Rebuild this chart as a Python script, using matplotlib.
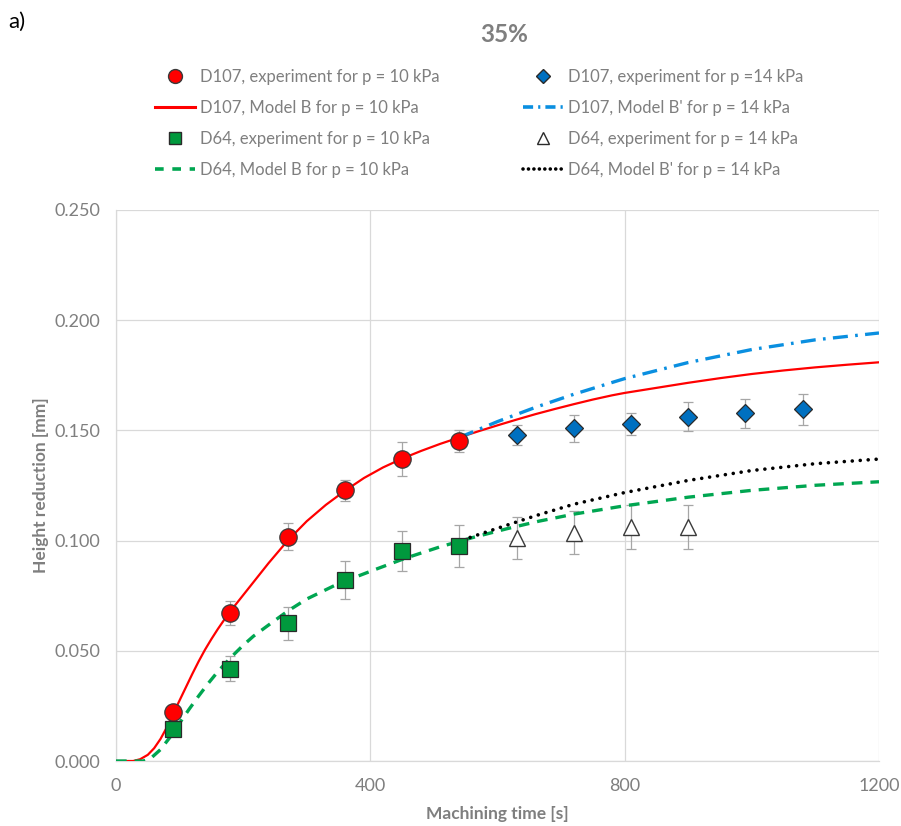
import matplotlib
matplotlib.use('Agg')
import matplotlib.pyplot as plt
from matplotlib.lines import Line2D
from matplotlib.ticker import FormatStrFormatter

plt.rcParams['font.family'] = ['Lato', 'DejaVu Sans']

# experiment, p = 10 kPa
t_p10 = [90, 180, 270, 360, 450, 540]
d107_p10 = [0.0224, 0.0670, 0.1018, 0.1228, 0.1370, 0.1450]
d107_p10_err = [0.002, 0.0055, 0.006, 0.0047, 0.0077, 0.005]
d64_p10 = [0.0144, 0.0419, 0.0625, 0.0821, 0.0954, 0.0977]
d64_p10_err = [0.002, 0.0057, 0.0074, 0.0087, 0.0091, 0.0095]

# experiment, p = 14 kPa
t_d107_p14 = [630, 720, 810, 900, 990, 1080]
d107_p14 = [0.1479, 0.1510, 0.1529, 0.1563, 0.1577, 0.1596]
d107_p14_err = [0.0045, 0.0062, 0.0051, 0.0064, 0.0065, 0.0071]
t_d64_p14 = [630, 720, 810, 900]
d64_p14 = [0.1012, 0.1036, 0.1060, 0.1060]
d64_p14_err = [0.0094, 0.0098, 0.010, 0.010]

# model curves
t_d107_B = [0, 27, 38, 50, 60, 70, 80, 90, 100, 110, 120, 130, 140, 150, 160,
            170, 180, 210, 240, 270, 300, 330, 360, 390, 420, 450, 480, 510,
            540, 570, 600, 630, 660, 690, 720, 750, 780, 800, 850, 900, 950,
            1000, 1050, 1100, 1150, 1200]
d107_B = [0, 0, 0.0008, 0.0028, 0.0058, 0.0100, 0.0153, 0.0215, 0.0275, 0.0335,
          0.0395, 0.0452, 0.0505, 0.0553, 0.0598, 0.0640, 0.0680, 0.0789, 0.0898,
          0.1000, 0.1088, 0.1162, 0.1226, 0.1284, 0.1332, 0.1372, 0.1407, 0.1439,
          0.1468, 0.1496, 0.1523, 0.1549, 0.1574, 0.1597, 0.1619, 0.1640, 0.1659,
          0.1670, 0.1693, 0.1716, 0.1737, 0.1756, 0.1772, 0.1786, 0.1798, 0.1809]
t_d64_B = [0, 43, 55, 70, 85, 100, 115, 130, 145, 160, 180, 200, 216, 240, 270,
           300, 350, 405, 455, 510, 560, 615, 665, 720, 800, 900, 1000, 1100,
           1200]
d64_B = [0, 0, 0.0013, 0.0052, 0.0108, 0.0172, 0.0235, 0.0295, 0.0352, 0.0405,
         0.0468, 0.0525, 0.0566, 0.0617, 0.0680, 0.0735, 0.0805, 0.0866, 0.0920,
         0.0972, 0.1013, 0.1054, 0.1088, 0.1120, 0.1158, 0.1197, 0.1228, 0.1251,
         0.1267]
t_d107_Bp = [540, 600, 660, 720, 800, 900, 1000, 1100, 1200]
d107_Bp = [0.1468, 0.1540, 0.1605, 0.1664, 0.1735, 0.1808, 0.1867, 0.1911, 0.1942]
t_d64_Bp = [545, 600, 660, 720, 800, 900, 1000, 1100, 1200]
d64_Bp = [0.1003, 0.1056, 0.1113, 0.1165, 0.1218, 0.1273, 0.1318, 0.1349, 0.1370]

gray = '#7f7f7f'
grid_c = '#d9d9d9'

fig = plt.figure(figsize=(9.01, 8.26), dpi=100)
ax = fig.add_axes([116/901, 1 - 761/826, 763/901, 551/826])

ax.plot(t_d107_B, d107_B, color='#ff0000', lw=1.6, zorder=3)
ax.plot(t_d64_B, d64_B, color='#00a651', lw=2.4, dashes=(3.2, 2.4), zorder=3)
ax.plot(t_d107_Bp, d107_Bp, color='#0a8fe0', lw=2.4, dashes=(4.5, 2.2, 0.8, 2.2), zorder=3)
ax.plot(t_d64_Bp, d64_Bp, color='black', lw=2.6, dashes=(0.01, 2.2),
        dash_capstyle='round', zorder=3)

eb = dict(fmt='none', ecolor='#a6a6a6', elinewidth=0.9, capsize=3.5, capthick=0.9, zorder=2)
ax.errorbar(t_p10, d107_p10, yerr=d107_p10_err, **eb)
ax.errorbar(t_p10, d64_p10, yerr=d64_p10_err, **eb)
ax.errorbar(t_d107_p14, d107_p14, yerr=d107_p14_err, **eb)
ax.errorbar(t_d64_p14, d64_p14, yerr=d64_p14_err, **eb)

ax.plot(t_p10, d107_p10, 'o', ms=12.5, mfc='#ff0000', mec='#3a3a3a', mew=0.9, zorder=4)
ax.plot(t_p10, d64_p10, 's', ms=11.5, mfc='#00993d', mec='#2a2a2a', mew=0.9, zorder=4)
ax.plot(t_d107_p14, d107_p14, 'D', ms=9, mfc='#0070c0', mec='#2a2a2a', mew=0.9, zorder=4)
ax.plot(t_d64_p14, d64_p14, '^', ms=11.5, mfc='white', mec='#3a3a3a', mew=1.0, zorder=4)

ax.set_xlim(0, 1200)
ax.set_ylim(0, 0.25)
ax.set_xticks([0, 400, 800, 1200])
ax.set_yticks([0, 0.05, 0.1, 0.15, 0.2, 0.25])
ax.yaxis.set_major_formatter(FormatStrFormatter('%.3f'))
ax.grid(True, color=grid_c, lw=0.9)
ax.set_axisbelow(True)
for s in ['top', 'right']:
    ax.spines[s].set_visible(False)
for s in ['left', 'bottom']:
    ax.spines[s].set_color(grid_c)
    ax.spines[s].set_linewidth(0.9)
ax.tick_params(length=0, labelsize=13, labelcolor=gray)
ax.tick_params(axis='y', pad=11)
ax.tick_params(axis='x', pad=12)
ax.set_xlabel('Machining time [s]', fontsize=12.5, fontweight='bold', color=gray, labelpad=9)
ax.set_ylabel('Height reduction [mm]', fontsize=12.5, fontweight='bold', color=gray, labelpad=4)

fig.text(504/901, 1 - 34/826, '35%', ha='center', va='center', fontsize=17.5,
         fontweight='bold', color=gray)
fig.text(8/901, 1 - 22/826, 'a)', ha='left', va='center', fontsize=16, color='black')

handles = [
    Line2D([], [], ls='none', marker='o', ms=10, mfc='#ff0000', mec='#3a3a3a'),
    Line2D([], [], color='#ff0000', lw=2.2),
    Line2D([], [], ls='none', marker='s', ms=9, mfc='#00993d', mec='#2a2a2a'),
    Line2D([], [], color='#00a651', lw=2.6, dashes=(2.4, 2.4)),
    Line2D([], [], ls='none', marker='D', ms=7, mfc='#0070c0', mec='#2a2a2a'),
    Line2D([], [], color='#0a8fe0', lw=2.6, dashes=(2.8, 1.4, 0.6, 1.4)),
    Line2D([], [], ls='none', marker='^', ms=8, mfc='white', mec='#2a2a2a'),
    Line2D([], [], color='black', lw=2.6, dashes=(0.01, 1.5), dash_capstyle='round'),
]
labels = [
    'D107, experiment for p = 10 kPa',
    'D107, Model B for p = 10 kPa',
    'D64, experiment for p = 10 kPa',
    'D64, Model B for p = 10 kPa',
    'D107, experiment for p =14 kPa',
    "D107, Model B' for p = 14 kPa",
    'D64, experiment for p = 14 kPa',
    "D64, Model B' for p = 14 kPa",
]
leg = fig.legend(handles, labels, ncol=2, loc='upper left',
                 bbox_to_anchor=(140/901, 1 - 54/826), frameon=False,
                 fontsize=12, handlelength=2.4, handletextpad=0.3,
                 columnspacing=5.0, labelspacing=0.9)
for txt in leg.get_texts():
    txt.set_color(gray)

fig.savefig('out.png', dpi=100)
